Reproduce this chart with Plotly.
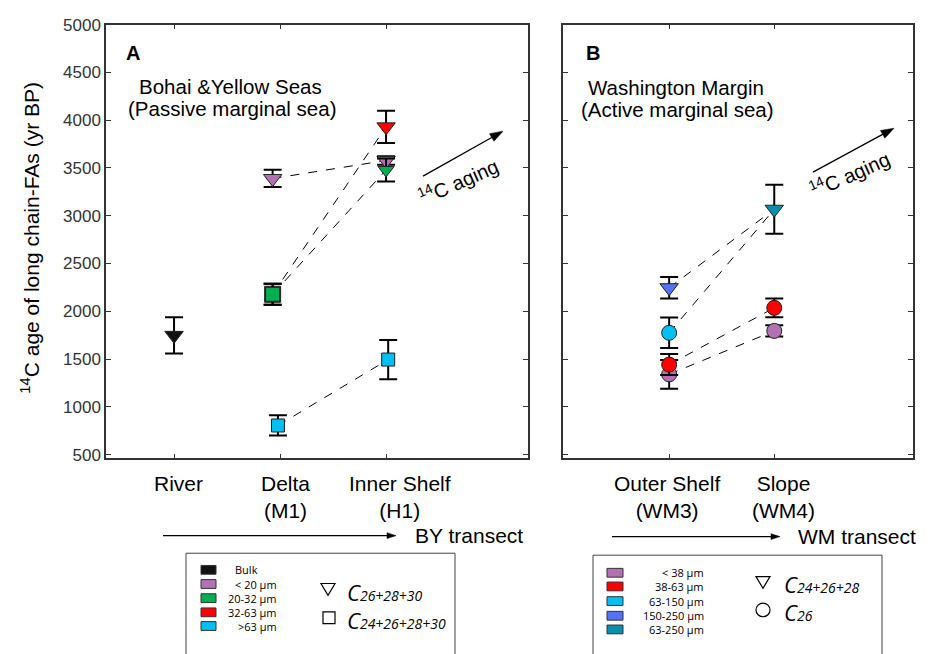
import math
import plotly.graph_objects as go

# ---------------- data ----------------
# Panel A: Bohai & Yellow Seas transect
by_site_labels = ["River", "Delta<br>(M1)", "Inner Shelf<br>(H1)"]
by_site_pos = [1, 2, 3]

bulk_x = [1.0]
bulk_age = [1748]
bulk_err = [190]

by_lt20_x = [1.93, 3.0]
by_lt20_age = [3390, 3578]
by_lt20_err = [90, 45]
by_lt20_sym = ["triangle-down", "triangle-down"]

by_32_63_x = [1.93, 3.0]
by_32_63_age = [2178, 3930]
by_32_63_err = [110, 170]
by_32_63_sym = ["square", "triangle-down"]

by_20_32_x = [1.93, 3.0]
by_20_32_age = [2178, 3479]
by_20_32_err = [110, 120]
by_20_32_sym = ["square", "triangle-down"]

by_gt63_x = [1.98, 3.02]
by_gt63_age = [805, 1495]
by_gt63_err = [106, 205]
by_gt63_sym = ["square", "square"]

# Panel B: Washington Margin transect
wm_site_labels = ["Outer Shelf<br>(WM3)", "Slope<br>(WM4)"]
wm_site_pos = [1, 2]

wm_lt38_x = [1.0, 2.0]
wm_lt38_age = [1340, 1795]
wm_lt38_err = [150, 60]

wm_38_63_x = [1.0, 2.0]
wm_38_63_age = [1442, 2036]
wm_38_63_err = [110, 98]

wm_63_150_x = [1.0]
wm_63_150_age = [1775]
wm_63_150_err = [160]

wm_150_250_x = [1.0]
wm_150_250_age = [2247]
wm_150_250_err = [113]

wm_63_250_x = [2.0]
wm_63_250_age = [3068]
wm_63_250_err = [257]

y_ticks = [500, 1000, 1500, 2000, 2500, 3000, 3500, 4000, 4500, 5000]

by_legend_labels = ["Bulk", "< 20 µm", "20-32 µm", "32-63 µm", ">63 µm"]
wm_legend_labels = ["< 38 µm", "38-63 µm", "63-150 µm", "150-250 µm", "63-250 µm"]

# ---------------- style ----------------
W, H = 929, 654
BULK = "#111111"
PURPLE = "#b271b2"
GREEN = "#00b050"
RED = "#ff0000"
CYAN = "#00bff3"
BLUE = "#5472f2"
TEAL = "#0a8eab"
FRAME = "#333333"
SANS = "Liberation Sans, Arial, Helvetica, sans-serif"
LEG = "Open Sans, sans-serif"


def px(x):
    return x / W


def py(y):
    return 1 - y / H


fig = go.Figure()


def link(xs, ys, ax):
    fig.add_trace(go.Scatter(x=xs, y=ys, mode="lines", xaxis=ax[0], yaxis=ax[1],
                             line=dict(color="black", width=1, dash="dash"),
                             hoverinfo="skip", showlegend=False))


def pts(xs, ys, errs, color, symbols, size, ax, name):
    fig.add_trace(go.Scatter(
        x=xs, y=ys, mode="markers", name=name, xaxis=ax[0], yaxis=ax[1],
        marker=dict(symbol=symbols, size=size, color=color,
                    line=dict(color="#222222", width=1)),
        error_y=dict(type="data", array=errs, color="black", thickness=2, width=9),
        showlegend=False))


A = ("x", "y")
B = ("x2", "y2")

# connecting dashed lines, panel A
link(by_lt20_x, by_lt20_age, A)
link(by_32_63_x, by_32_63_age, A)
link(by_20_32_x, by_20_32_age, A)
link(by_gt63_x, by_gt63_age, A)

# markers, panel A
pts(bulk_x, bulk_age, bulk_err, BULK, "triangle-down", 16, A, "Bulk")
pts(by_lt20_x, by_lt20_age, by_lt20_err, PURPLE, by_lt20_sym, 16, A, "< 20 µm")
pts(by_32_63_x, by_32_63_age, by_32_63_err, RED, by_32_63_sym, 16, A, "32-63 µm")
pts(by_20_32_x, by_20_32_age, by_20_32_err, GREEN, by_20_32_sym, 14, A, "20-32 µm")
pts(by_gt63_x, by_gt63_age, by_gt63_err, CYAN, by_gt63_sym, 13, A, ">63 µm")

# connecting dashed lines, panel B
link(wm_lt38_x, wm_lt38_age, B)
link(wm_38_63_x, wm_38_63_age, B)
link([wm_150_250_x[0], wm_63_250_x[0]], [wm_150_250_age[0], wm_63_250_age[0]], B)
link([wm_63_150_x[0], wm_63_250_x[0]], [wm_63_150_age[0], wm_63_250_age[0]], B)

# markers, panel B
pts(wm_lt38_x, wm_lt38_age, wm_lt38_err, PURPLE, "circle", 15, B, "< 38 µm")
pts(wm_38_63_x, wm_38_63_age, wm_38_63_err, RED, "circle", 15, B, "38-63 µm")
pts(wm_63_150_x, wm_63_150_age, wm_63_150_err, CYAN, "circle", 15, B, "63-150 µm")
pts(wm_150_250_x, wm_150_250_age, wm_150_250_err, BLUE, "triangle-down", 16, B, "150-250 µm")
pts(wm_63_250_x, wm_63_250_age, wm_63_250_err, TEAL, "triangle-down", 16, B, "63-250 µm")

axis_common = dict(showgrid=False, zeroline=False, showline=True, linecolor=FRAME,
                   linewidth=1.5, mirror="ticks", ticks="inside", ticklen=5,
                   tickcolor=FRAME, tickwidth=1.2)

fig.update_layout(
    width=W, height=H, margin=dict(l=0, r=0, t=0, b=0), autosize=False,
    paper_bgcolor="white", plot_bgcolor="white",
    font=dict(family=SANS, color="black"),
    xaxis=dict(domain=[px(106), px(528)], range=[0.358, 4.339], tickvals=by_site_pos,
               showticklabels=False, anchor="y", **axis_common),
    yaxis=dict(domain=[py(460), py(16)], range=[460, 5000], tickvals=y_ticks,
               tickfont=dict(size=17, color="#333333", family=SANS), anchor="x",
               **axis_common),
    xaxis2=dict(domain=[px(563), px(913)], range=[-0.01, 3.32], tickvals=wm_site_pos,
                showticklabels=False, anchor="y2", **axis_common),
    yaxis2=dict(domain=[py(460), py(16)], range=[460, 5000], tickvals=y_ticks,
                showticklabels=False, anchor="x2", **axis_common),
)

ann = []
shapes = []


def text(x, y, s, size, xanchor="center", yanchor="middle", family=SANS, angle=0, color="black"):
    ann.append(dict(x=px(x), y=py(y), xref="paper", yref="paper", text=s, showarrow=False,
                    xanchor=xanchor, yanchor=yanchor, textangle=angle, borderpad=0,
                    font=dict(size=size, family=family, color=color)))


def arrow(x0, y0, x1, y1, hl, hw, lw):
    L = math.hypot(x1 - x0, y1 - y0)
    dx, dy = (x1 - x0) / L, (y1 - y0) / L
    bx, by = x1 - dx * hl, y1 - dy * hl
    nx, ny = -dy, dx
    shapes.append(dict(type="line", xref="paper", yref="paper", x0=px(x0), y0=py(y0),
                       x1=px(bx + dx), y1=py(by + dy), line=dict(color="black", width=lw)))
    p = "M {:.5f} {:.5f} L {:.5f} {:.5f} L {:.5f} {:.5f} Z".format(
        px(x1), py(y1), px(bx + nx * hw / 2), py(by + ny * hw / 2),
        px(bx - nx * hw / 2), py(by - ny * hw / 2))
    shapes.append(dict(type="path", xref="paper", yref="paper", path=p,
                       fillcolor="black", line=dict(color="black", width=0.5)))


# y-axis title
text(30, 234, "<sup>14</sup>C age of long chain-FAs (yr BP)", 21, angle=-90)

# panel labels and titles
text(133, 45, "<b>A</b>", 20)
text(593, 45, "<b>B</b>", 20)
text(230, 79, "Bohai &Yellow Seas", 20.5)
text(232, 102, "(Passive marginal sea)", 20.5)
text(676, 80, "Washington Margin", 20.5)
text(677, 103, "(Active marginal sea)", 20.5)

# 14C aging arrows
arrow(423, 171, 503, 125, 13, 9, 1.3)
arrow(813, 167, 894, 122, 13, 9, 1.3)
text(458, 176, "<sup>14</sup>C aging", 20, angle=-24)
text(849, 168, "<sup>14</sup>C aging", 20, angle=-24)

# category labels (in data coordinates)
for lab, xpos, shift in zip(by_site_labels, by_site_pos, [4, 5, 14]):
    ann.append(dict(x=xpos, y=py(472), xref="x", yref="paper", text=lab, showarrow=False,
                    xanchor="center", yanchor="top", xshift=shift, align="center",
                    font=dict(size=21, family=SANS)))
for lab, xpos, shift in zip(wm_site_labels, wm_site_pos, [-2, 9]):
    ann.append(dict(x=xpos, y=py(472), xref="x2", yref="paper", text=lab, showarrow=False,
                    xanchor="center", yanchor="top", xshift=shift, align="center",
                    font=dict(size=21, family=SANS)))

# transect arrows
arrow(163, 539, 396, 539, 9, 6, 1.2)
text(414, 539, "BY transect", 21, xanchor="left")
arrow(612, 540, 780, 540, 9, 6, 1.2)
text(797, 540, "WM transect", 21, xanchor="left")

# legend boxes
shapes.append(dict(type="rect", xref="paper", yref="paper", x0=px(186), x1=px(455),
                   y0=py(662), y1=py(557), line=dict(color="#444444", width=1)))
shapes.append(dict(type="rect", xref="paper", yref="paper", x0=px(593), x1=px(882),
                   y0=py(662), y1=py(559), line=dict(color="#444444", width=1)))

by_leg_colors = [BULK, PURPLE, GREEN, RED, CYAN]
by_leg_rows = [574, 588.5, 603, 617.5, 631.5]
for i, (lab, col, ry) in enumerate(zip(by_legend_labels, by_leg_colors, by_leg_rows)):
    shapes.append(dict(type="rect", xref="paper", yref="paper", x0=px(201), x1=px(216),
                       y0=py(ry + 4.5), y1=py(ry - 4.5), fillcolor=col,
                       line=dict(color="#333333", width=1)))
    if i == 0:
        text(246, ry, lab, 11, family=LEG)
    else:
        text(278, ry, lab, 11, xanchor="right", family=LEG)

wm_leg_colors = [PURPLE, RED, CYAN, BLUE, TEAL]
wm_leg_rows = [577, 591, 606, 621, 635]
for lab, col, ry in zip(wm_legend_labels, wm_leg_colors, wm_leg_rows):
    shapes.append(dict(type="rect", xref="paper", yref="paper", x0=px(607), x1=px(623),
                       y0=py(ry + 4.5), y1=py(ry - 4.5), fillcolor=col,
                       line=dict(color="#333333", width=1)))
    text(705, ry, lab, 11, xanchor="right", family=LEG)


def tri(cx, cy):
    p = "M {:.5f} {:.5f} L {:.5f} {:.5f} L {:.5f} {:.5f} Z".format(
        px(cx - 7), py(cy - 6), px(cx + 7), py(cy - 6), px(cx), py(cy + 6))
    shapes.append(dict(type="path", xref="paper", yref="paper", path=p,
                       line=dict(color="black", width=1.2)))


tri(328, 594)
shapes.append(dict(type="rect", xref="paper", yref="paper", x0=px(323), x1=px(335),
                   y0=py(629), y1=py(617), line=dict(color="black", width=1.2)))
tri(763, 587)
shapes.append(dict(type="circle", xref="paper", yref="paper", x0=px(756), x1=px(770),
                   y0=py(622), y1=py(608), line=dict(color="black", width=1.2)))

sub = "<i>C<span style='font-size:14px'>{}</span></i>"
text(346, 597, sub.format("26+28+30"), 22, xanchor="left", family=LEG)
text(346, 625, sub.format("24+26+28+30"), 22, xanchor="left", family=LEG)
text(783, 589, sub.format("24+26+28"), 22, xanchor="left", family=LEG)
text(783, 617, sub.format("26"), 22, xanchor="left", family=LEG)

fig.update_layout(annotations=ann, shapes=shapes)

fig.write_html("out.html", config={"displayModeBar": False},
               post_script="document.body.style.margin='0';document.body.style.overflow='hidden';")
